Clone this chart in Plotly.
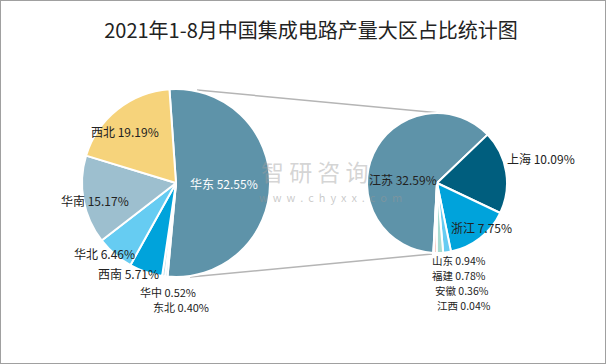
import plotly.graph_objects as go

W, H = 606, 364

# ---- data ----
title_text = "2021年1-8月中国集成电路产量大区占比统计图"
region_names = ["华东", "东北", "华中", "西南", "华北", "华南", "西北"]
region_values = [52.55, 0.40, 0.52, 5.71, 6.46, 15.17, 19.19]
east_names = ["江苏", "上海", "浙江", "山东", "福建", "安徽", "江西"]
east_values = [32.59, 10.09, 7.75, 0.94, 0.78, 0.36, 0.04]

# ---- styles ----
region_colors = ["#5E93A9", "#8FC3D6", "#B5DDEA", "#00A3DB", "#66CCF2", "#9DBFCF", "#F6D37B"]
east_colors = ["#5E93A9", "#005E7E", "#00A3DB", "#66CCF2", "#A8DCD1", "#F4B9B0", "#CCCCCC"]
# label anchor positions in pixels (x, y) and font sizes
region_label_pos = [(224, 183), (181, 307), (168, 292), (128, 273), (104, 253), (95, 200), (125, 131)]
region_label_size = [12, 11, 11, 12, 12, 12, 12]
region_label_col = ["white", "#222", "#222", "#222", "#222", "#222", "#222"]
east_label_pos = [(403, 179), (541, 158), (481, 227), (459, 260), (459, 275), (462, 290), (464, 305)]
east_label_size = [12, 12, 12, 10.5, 10.5, 10.5, 10.5]

def px(x):
    return x / W

def py(y):
    return 1 - y / H

FONT = "Noto Sans CJK SC"

fig = go.Figure()
fig.add_trace(go.Pie(
    labels=region_names, values=region_values, sort=False, direction="clockwise",
    rotation=-4, textinfo="none", hoverinfo="label+percent",
    marker=dict(colors=region_colors, line=dict(color="white", width=2)),
    domain=dict(x=[px(82), px(270)], y=[py(277), py(89)]),
    showlegend=False,
))
fig.add_trace(go.Pie(
    labels=east_names, values=east_values, sort=False, direction="clockwise",
    rotation=-177, textinfo="none", hoverinfo="label+value",
    marker=dict(colors=east_colors, line=dict(color="white", width=2)),
    domain=dict(x=[px(367), px(507)], y=[py(253), py(113)]),
    showlegend=False,
))

annotations = []
total = sum(region_values)
for name, val, (x, y), col, fs in zip(region_names, region_values, region_label_pos,
                                      region_label_col, region_label_size):
    annotations.append(dict(
        x=px(x), y=py(y), xref="paper", yref="paper", showarrow=False, borderpad=0,
        text=f"{name} {val / total * 100:.2f}%", font=dict(family=FONT, size=fs, color=col),
        xanchor="center", yanchor="middle"))
for name, val, (x, y), fs in zip(east_names, east_values, east_label_pos, east_label_size):
    annotations.append(dict(
        x=px(x), y=py(y), xref="paper", yref="paper", showarrow=False, borderpad=0,
        text=f"{name} {val / total * 100:.2f}%", font=dict(family=FONT, size=fs, color="#222"),
        xanchor="center", yanchor="middle"))

# watermark
annotations.append(dict(x=px(314), y=py(171), xref="paper", yref="paper", showarrow=False,
                        text="智 研 咨 询", font=dict(family=FONT, size=23, color="rgba(160,160,160,0.45)")))
annotations.append(dict(x=px(330), y=py(197), xref="paper", yref="paper", showarrow=False,
                        text="w  w  w  .  c  h  y  x  x  .  c  o  m",
                        font=dict(family=FONT, size=11, color="rgba(150,150,150,0.5)")))

shapes = [
    dict(type="line", xref="paper", yref="paper", x0=px(197), y0=py(90), x1=px(440), y1=py(113),
         line=dict(color="#B5B5B5", width=1.5), layer="below"),
    dict(type="line", xref="paper", yref="paper", x0=px(190), y0=py(277), x1=px(432), y1=py(254),
         line=dict(color="#B5B5B5", width=1.5), layer="below"),
    dict(type="rect", xref="paper", yref="paper", x0=0, y0=0, x1=1, y1=1,
         line=dict(color="#A0A0A0", width=2)),
]

fig.update_layout(
    width=W, height=H, margin=dict(l=0, r=0, t=0, b=0),
    paper_bgcolor="white", plot_bgcolor="white",
    title=dict(text=title_text, x=px(311), xanchor="center", y=py(31), yanchor="middle",
               font=dict(family=FONT, size=20, color="#222")),
    annotations=annotations, shapes=shapes,
)

fig.write_html("out.html", config={"displayModeBar": False},
               post_script="document.body.style.margin='0';document.body.style.padding='0';")
